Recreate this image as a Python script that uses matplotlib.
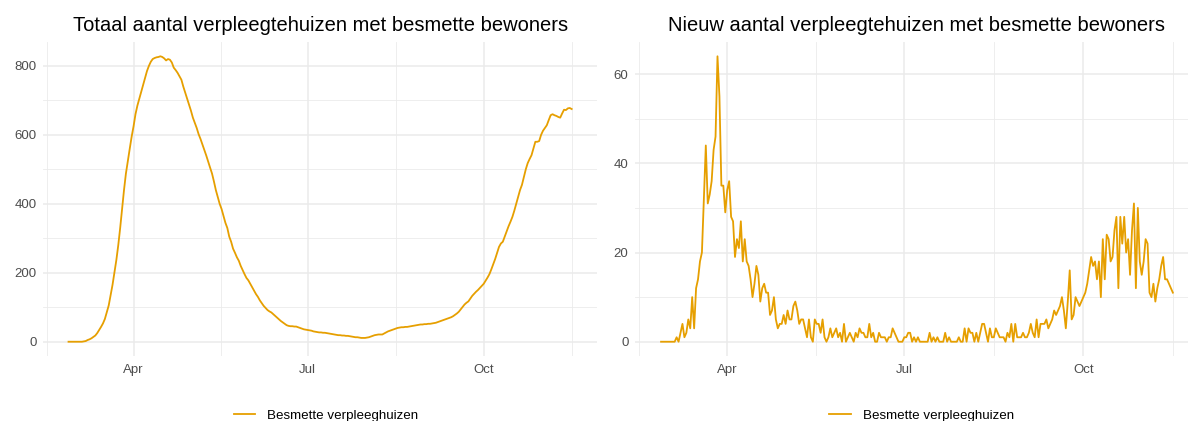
import numpy as np
import pandas as pd
import matplotlib
matplotlib.use("Agg")
import matplotlib.pyplot as plt
import matplotlib.dates as mdates
from matplotlib.ticker import MultipleLocator

plt.rcParams['font.family'] = ['Liberation Sans', 'DejaVu Sans']

# Data: daily values from 2020-02-27 onward
start_date = "2020-02-27"

# total number of nursing homes with infected residents
totaal = [
    0, 0, 0, 0, 0, 0, 0, 0, 1, 2, 5, 7, 10, 14, 18, 25, 34, 43, 53, 66,
    85, 105, 135, 165, 200, 237, 280, 330, 385, 440, 488, 525, 560, 595, 625, 660, 685, 705, 725, 745,
    765, 785, 800, 812, 820, 823, 825, 826, 828, 826, 822, 816, 820, 818, 810, 795, 788, 780, 770, 760,
    740, 722, 705, 688, 670, 650, 635, 620, 602, 588, 572, 556, 540, 522, 505, 488, 465, 440, 420, 400,
    385, 365, 345, 330, 305, 290, 270, 258, 245, 235, 220, 208, 196, 185, 178, 168, 158, 148, 138, 130,
    120, 112, 104, 98, 92, 88, 85, 80, 75, 70, 65, 60, 56, 52, 48, 46, 45, 45, 44, 44,
    42, 40, 38, 36, 35, 34, 33, 32, 30, 29, 28, 27, 27, 26, 26, 25, 24, 23, 22, 21,
    20, 19, 19, 18, 18, 17, 17, 16, 15, 14, 13, 13, 12, 11, 11, 11, 12, 13, 15, 17,
    19, 20, 21, 21, 21, 24, 27, 30, 32, 34, 36, 38, 40, 41, 42, 42, 43, 43, 44, 45,
    46, 47, 48, 49, 50, 50, 51, 51, 52, 52, 53, 54, 55, 57, 59, 61, 63, 65, 67, 69,
    71, 74, 78, 82, 87, 94, 101, 108, 113, 117, 125, 133, 139, 145, 150, 156, 162, 168, 177, 186,
    196, 210, 225, 240, 258, 275, 285, 290, 305, 320, 335, 348, 362, 380, 400, 420, 440, 455, 478, 500,
    518, 530, 541, 560, 580, 580, 582, 600, 612, 620, 628, 643, 657, 660, 657, 655, 652, 650, 662, 673,
    672, 677, 678, 675,
]

# new nursing homes with infected residents per day
nieuw = [
    0, 0, 0, 0, 0, 0, 0, 0, 1, 0, 2, 4, 1, 2, 5, 3, 10, 3, 12, 14,
    18, 20, 32, 44, 31, 33, 36, 43, 46, 64, 55, 35, 35, 29, 34, 36, 28, 27, 19, 23,
    21, 27, 18, 23, 18, 17, 14, 10, 13, 17, 15, 9, 12, 13, 11, 11, 6, 7, 10, 5,
    3, 4, 4, 6, 4, 7, 5, 5, 8, 9, 7, 4, 5, 5, 3, 1, 5, 1, 0, 5,
    4, 4, 2, 5, 1, 0, 1, 3, 1, 2, 3, 1, 2, 0, 4, 0, 1, 2, 1, 0,
    2, 1, 3, 2, 2, 1, 1, 4, 1, 2, 0, 0, 2, 1, 1, 1, 0, 1, 1, 3,
    2, 1, 0, 0, 0, 1, 1, 2, 2, 0, 1, 0, 1, 0, 0, 0, 0, 0, 2, 0,
    1, 0, 1, 0, 0, 0, 2, 0, 1, 0, 0, 0, 0, 1, 0, 0, 3, 0, 3, 2,
    2, 0, 2, 0, 2, 4, 4, 2, 0, 3, 1, 1, 3, 2, 1, 1, 1, 0, 2, 1,
    4, 0, 4, 1, 1, 1, 2, 1, 1, 2, 4, 2, 1, 5, 1, 4, 4, 4, 5, 3,
    4, 5, 7, 6, 7, 8, 10, 7, 3, 9, 16, 5, 6, 10, 9, 8, 9, 10, 11, 13,
    16, 19, 17, 18, 14, 18, 10, 23, 14, 24, 23, 18, 19, 25, 28, 12, 28, 22, 28, 20,
    23, 15, 25, 31, 12, 30, 18, 15, 18, 23, 22, 11, 10, 13, 9, 12, 14, 17, 19, 14,
    14, 13, 12, 11,
]

titles = ["Totaal aantal verpleegtehuizen met besmette bewoners",
          "Nieuw aantal verpleegtehuizen met besmette bewoners"]
legend_label = "Besmette verpleeghuizen"
line_color = "#E69F00"

fig = plt.figure(figsize=(11.88, 4.21), dpi=100)
ax1 = fig.add_axes([0.0365, 0.1544, 0.4659, 0.7458])
# right panel runs past the image edge, as in the reference
ax2 = fig.add_axes([0.5349, 0.1544, 0.4739, 0.7458])

panels = [(ax1, totaal, 200, 100, 0.511), (ax2, nieuw, 20, 10, 0.508)]

for (ax, values, major, minor, leg_x), title in zip(panels, titles):
    dates = pd.date_range(start_date, periods=len(values), freq="D")
    ax.plot(dates, values, color=line_color, lw=1.3, label=legend_label)

    # ggplot style expansion of 5%
    span = dates[-1] - dates[0]
    ax.set_xlim(dates[0] - span * 0.05, dates[-1] + span * 0.05)
    vmax = max(values)
    ax.set_ylim(-vmax * 0.05, vmax * 1.05)

    ax.xaxis.set_major_locator(mdates.MonthLocator(bymonth=[1, 4, 7, 10]))
    ax.xaxis.set_major_formatter(mdates.DateFormatter("%b"))
    q = pd.to_datetime(["2020-01-01", "2020-04-01", "2020-07-01", "2020-10-01", "2021-01-01"])
    minor_dates = [q[i] + (q[i + 1] - q[i]) / 2 for i in range(4)]
    ax.set_xticks(mdates.date2num(minor_dates), minor=True)
    ax.yaxis.set_major_locator(MultipleLocator(major))
    ax.yaxis.set_minor_locator(MultipleLocator(minor))

    ax.grid(which="major", color="#EBEBEB", lw=1.1)
    ax.grid(which="minor", color="#EBEBEB", lw=0.6)
    ax.set_axisbelow(True)
    for s in ax.spines.values():
        s.set_visible(False)
    ax.tick_params(which="both", length=0)
    ax.tick_params(axis="both", labelsize=9.5, labelcolor="#4D4D4D")
    ax.tick_params(axis="x", pad=6)
    ax.tick_params(axis="y", pad=5)

    ax.set_title(title, fontsize=14.5, color="black", pad=8)
    ax.legend(loc="center", bbox_to_anchor=(leg_x, -0.19), frameon=False,
              fontsize=9.6, handlelength=1.6, handletextpad=0.9)

fig.savefig("out.png", dpi=100)
